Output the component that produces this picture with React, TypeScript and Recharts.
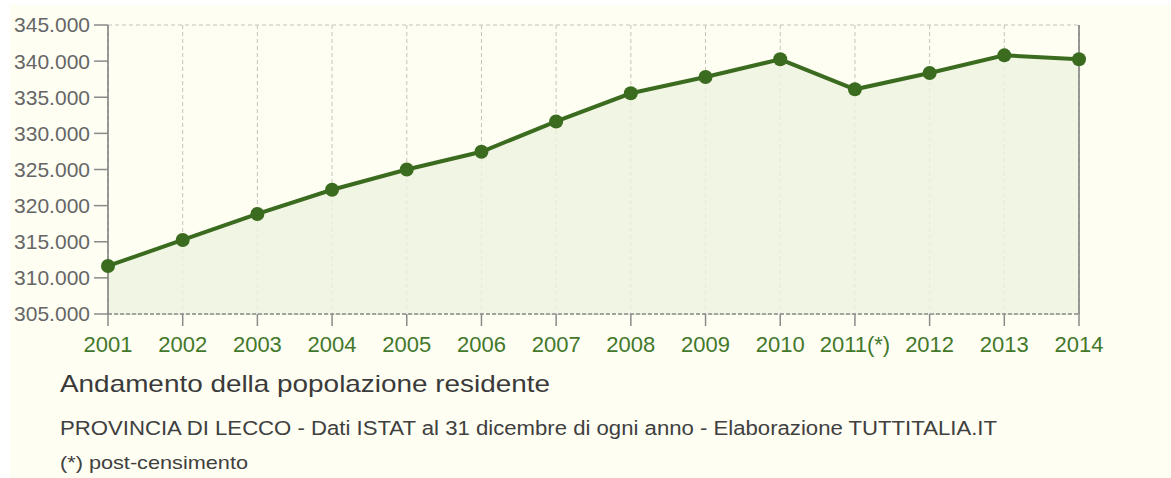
import {
  Area,
  CartesianGrid,
  ComposedChart,
  Line,
  XAxis,
  YAxis,
} from "recharts";

const years = [
  "2001", "2002", "2003", "2004", "2005", "2006", "2007",
  "2008", "2009", "2010", "2011(*)", "2012", "2013", "2014",
];
const population = [
  311650, 315250, 318850, 322200, 325000, 327450, 331650,
  335550, 337800, 340250, 336100, 338350, 340800, 340250,
];
const yTicks = [305000, 310000, 315000, 320000, 325000, 330000, 335000, 340000, 345000];

const data = years.map((year, i) => ({ year, value: population[i] }));

const fmt = (v: number) => (v / 1000).toFixed(3);

const FONT = "'Liberation Sans', Arial, sans-serif";
const GREEN = "#3b6b1f";

export default function App() {
  return (
    <div
      style={{
        position: "absolute",
        left: 0,
        top: 0,
        width: 1171,
        height: 478,
        background: "#ffffff",
        fontFamily: FONT,
      }}
    >
      <div
        style={{
          position: "absolute",
          left: 10,
          top: 5,
          width: 1161,
          height: 473,
          background: "#fefef3",
        }}
      />
      <div style={{ position: "absolute", left: 0, top: 0 }}>
        <ComposedChart
          width={1171}
          height={478}
          data={data}
          margin={{ top: 25, right: 0, left: 0, bottom: 114 }}
        >
          <CartesianGrid stroke="#c4c4bc" strokeDasharray="4 3" />
          <XAxis
            dataKey="year"
            height={50}
            tickSize={12}
            tickMargin={10}
            interval={0}
            axisLine={{ stroke: "#8a8a8a", strokeDasharray: "4 2", strokeWidth: 1.5 }}
            tickLine={{ stroke: "#8a8a8a", strokeWidth: 1.5 }}
            tick={{ fill: "#43782a", fontSize: 22, fontFamily: FONT }}
          />
          <YAxis
            yAxisId="left"
            orientation="left"
            width={108}
            domain={[305000, 345000]}
            ticks={yTicks}
            tickFormatter={fmt}
            tickSize={14}
            tickMargin={4}
            axisLine={{ stroke: "#7a7a7a", strokeWidth: 1.5 }}
            tickLine={{ stroke: "#8a8a8a", strokeWidth: 1.5 }}
            tick={{ fill: "#666666", fontSize: 21, fontFamily: FONT }}
          />
          <YAxis
            yAxisId="right"
            orientation="right"
            width={92}
            domain={[305000, 345000]}
            ticks={yTicks}
            tickFormatter={fmt}
            tickSize={7}
            tickMargin={2}
            axisLine={{ stroke: "#7a7a7a", strokeWidth: 1.5 }}
            tickLine={{ stroke: "#8a8a8a", strokeWidth: 1.5 }}
            tick={{ fill: "#666666", fontSize: 21, fontFamily: FONT }}
          />
          <Area
            yAxisId="left"
            dataKey="value"
            type="linear"
            fill="#eef2e0"
            fillOpacity={0.8}
            stroke="none"
            baseValue="dataMin"
            isAnimationActive={false}
          />
          <Line
            yAxisId="left"
            dataKey="value"
            type="linear"
            stroke={GREEN}
            strokeWidth={4}
            dot={{ r: 7, fill: GREEN, stroke: "none" }}
            activeDot={false}
            isAnimationActive={false}
          />
        </ComposedChart>
      </div>
      <svg
        width={1171}
        height={478}
        style={{ position: "absolute", left: 0, top: 0, pointerEvents: "none" }}
      >
        <text
          x={60}
          y={392}
          fontSize={24}
          fill="#3a3a3a"
          fontFamily={FONT}
          textLength={490}
          lengthAdjust="spacingAndGlyphs"
        >
          Andamento della popolazione residente
        </text>
        <text
          x={60}
          y={435}
          fontSize={19.5}
          fill="#404040"
          fontFamily={FONT}
          textLength={937}
          lengthAdjust="spacingAndGlyphs"
        >
          PROVINCIA DI LECCO - Dati ISTAT al 31 dicembre di ogni anno - Elaborazione TUTTITALIA.IT
        </text>
        <text
          x={60}
          y={469}
          fontSize={19}
          fill="#404040"
          fontFamily={FONT}
          textLength={188}
          lengthAdjust="spacingAndGlyphs"
        >
          (*) post-censimento
        </text>
      </svg>
    </div>
  );
}
